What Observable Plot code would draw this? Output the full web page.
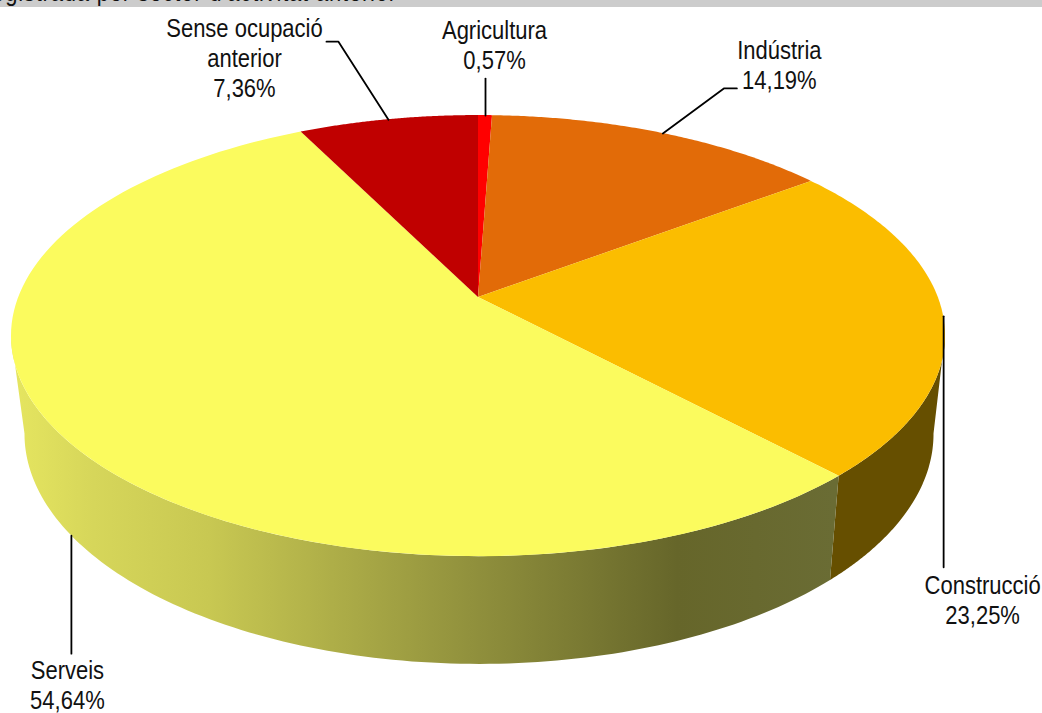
<!DOCTYPE html>
<html><head><meta charset="utf-8">
<script src="https://cdn.jsdelivr.net/npm/d3@7"></script>
<script src="https://cdn.jsdelivr.net/npm/@observablehq/plot@0.6"></script>
<style>
html,body{margin:0;padding:0;background:#fff;overflow:hidden}
#wrap{position:relative;width:1042px;height:713px;overflow:hidden}
#chart{position:absolute;left:0;top:0}
#band{position:absolute;left:0;top:0;width:1042px;height:6.5px;background:#ccc;overflow:hidden}
#band span{position:absolute;left:-16px;top:-22px;font:25px "Liberation Sans",Arial,sans-serif;letter-spacing:.9px;color:#111;white-space:nowrap;transform:scaleX(.88);transform-origin:0 0}
svg text{font-family:"Liberation Sans",Arial,sans-serif}
</style></head><body>
<div id="wrap"><div id="chart"></div><div id="band"><span>registrada per sector d'activitat anterior</span></div></div>
<script>
// Data (clockwise from 12 o'clock)
const categories = ["Agricultura", "Indústria", "Construcció", "Serveis", "Sense ocupació\nanterior"];
const shares = [0.57, 14.19, 23.25, 54.64, 7.36];
const shareLabels = ["0,57%", "14,19%", "23,25%", "54,64%", "7,36%"];

// Styles
const topColors = ["#ff0000", "#e26b08", "#fbbd00", "#fbfb5e", "#c00000"];
const wallColors = ["#990000", "#6a4004", "#664f00", "url(#wall)", "#730000"];

// Pie geometry (perspective view of a disc)
const topFace = {cx: 478, cy: 297, a: 459.8, b: 213.8, k: 0.175};
const baseFace = {cx: 479, cy: 393.6, a: 447.5, b: 223, k: 0.175};
const rightTangentDeg = 100, leftTangentDeg = 260; // where the side silhouette leaves the disc
const project = (f, deg) => {
  const t = deg * Math.PI / 180, u = Math.sin(t), v = Math.cos(t), w = 1 + f.k * v;
  return [f.cx + f.a * u / w, f.cy - f.b * v / w];
};
const cum = d3.cumsum(shares);
const total = d3.sum(shares);
const startDeg = i => (i ? cum[i - 1] : 0) / total * 360;
const endDeg = i => cum[i] / total * 360;
const midDeg = i => (startDeg(i) + endDeg(i)) / 2;
const arcSteps = (a, b) => d3.range(0, 121).map(s => a + (b - a) * s / 120);

const topRows = categories.flatMap((c, i) => arcSteps(startDeg(i), endDeg(i)).map(d => {
  const [x, y] = project(topFace, d);
  return {c, x1: topFace.cx, y1: topFace.cy, x2: x, y2: y};
}));
// Visible front walls: Construcció and Serveis
const wallSpan = [[rightTangentDeg, endDeg(2), 2], [startDeg(3), leftTangentDeg, 3]];
const wallRows = wallSpan.flatMap(([a, b, i]) => arcSteps(a, b).map(d => {
  const [x1, y1] = project(topFace, d), [x2, y2] = project(baseFace, d);
  return {c: categories[i], x1, y1, x2, y2};
}));

// Leader layout: which face each leader leaves from, and elbow / end offsets and label placement
const leaderFace = [topFace, topFace, topFace, baseFace, topFace];
const leaderPath = [
  [[0, -37]],
  [[61, -45], [74, -45]],
  [[0, 251]],
  [[0, 118]],
  [[-50, -78], [-62, -78]]
];
const labelOffset = [[9, -98], [116.5, -96], [39, 256], [-4, 122], [-144, -104]];

const leaderRows = categories.flatMap((c, i) => {
  const [x, y] = project(leaderFace[i], midDeg(i));
  return [[0, 0], ...leaderPath[i]].map(([dx, dy]) => ({c, x: x + dx, y: y + dy}));
});
const labelRows = categories.map((c, i) => {
  const [x, y] = project(leaderFace[i], midDeg(i));
  return {text: c + "\n" + shareLabels[i], x: x + labelOffset[i][0], y: y + labelOffset[i][1]};
});

const defs = () => {
  const s = d3.create("svg:defs");
  const g = s.append("linearGradient").attr("id", "wall").attr("gradientUnits", "userSpaceOnUse")
    .attr("x1", 0).attr("x2", 1042).attr("y1", 0).attr("y2", 0);
  [[0.01, "#e6e660"], [0.09, "#d6d65a"], [0.2, "#c8c852"], [0.46, "#8f8f3c"], [0.65, "#66662a"], [0.8, "#6a6c34"]]
    .forEach(([o, col]) => g.append("stop").attr("offset", o).attr("stop-color", col));
  return s.node();
};

const plot = Plot.plot({
  width: 1042, height: 713, margin: 0,
  x: {domain: [0, 1042], range: [0, 1042], axis: null},
  y: {domain: [0, 713], range: [0, 713], axis: null},
  marks: [
    defs,
    ...[2, 3].map(i => Plot.area(wallRows.filter(r => r.c === categories[i]), {
      x1: "x1", y1: "y1", x2: "x2", y2: "y2", fill: wallColors[i], curve: "linear"
    })),
    ...categories.map((c, i) => Plot.area(topRows.filter(r => r.c === c), {
      x1: "x1", y1: "y1", x2: "x2", y2: "y2", fill: topColors[i], curve: "linear"
    })),
    Plot.line(leaderRows, {x: "x", y: "y", z: "c", stroke: "#000", strokeWidth: 1.8, curve: "linear"}),
    Plot.text(labelRows, {x: "x", y: "y", text: "text", fontSize: 25, lineHeight: 1.2, lineAnchor: "top", fill: "#111"})
  ]
});
// The reference lettering is horizontally condensed
d3.select(plot).selectAll("text").filter(function () { return this.getAttribute("transform"); })
  .attr("transform", function () { return this.getAttribute("transform") + " scale(0.88,1)"; });
document.getElementById("chart").appendChild(plot);
</script>
</body></html>
